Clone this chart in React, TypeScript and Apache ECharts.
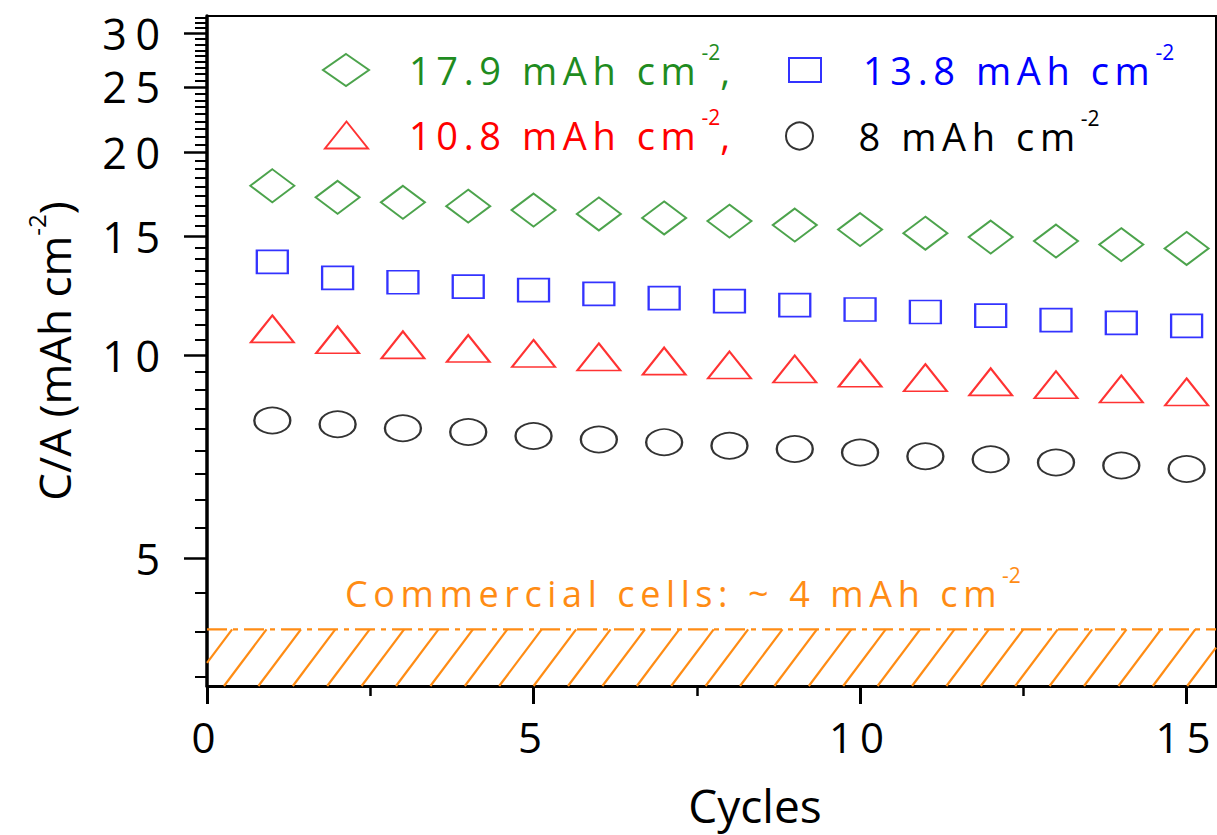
import React, { useEffect, useRef } from "react";
import * as echarts from "echarts";

// ---------------- data ----------------
const cycles = [1, 2, 3, 4, 5, 6, 7, 8, 9, 10, 11, 12, 13, 14, 15];
const capacityLabels = ["17.9", "13.8", "10.8", "8"];
const ca179 = [17.84, 17.15, 16.86, 16.64, 16.42, 16.2, 15.98, 15.81, 15.6, 15.36, 15.17, 14.97, 14.77, 14.59, 14.4];
const ca138 = [13.75, 13.02, 12.83, 12.64, 12.49, 12.33, 12.15, 12.03, 11.87, 11.69, 11.59, 11.45, 11.27, 11.17, 11.05];
const ca108 = [10.94, 10.54, 10.36, 10.23, 10.06, 9.94, 9.8, 9.67, 9.54, 9.4, 9.26, 9.13, 9.04, 8.91, 8.82];
const ca8 = [8.0, 7.9, 7.79, 7.69, 7.59, 7.5, 7.43, 7.34, 7.26, 7.17, 7.08, 7.01, 6.93, 6.86, 6.78];
const commercialLevel = 3.92;
const yMajorTicks = [5, 10, 15, 20, 25, 30];
const xMajorTicks = [0, 5, 10, 15];
const xMinorTicks = [2.5, 7.5, 12.5];
const Y_MIN = 3.23;
const Y_MAX = 31.86;
const X_MIN = 0;
const X_MAX = 15.45;

// minor ticks: 8 between each pair of major ticks (step 5/9)
const yMinorTicks: number[] = [];
for (let a = 0; a <= 30; a += 5) {
  for (let k = 1; k <= 8; k++) {
    const v = a + (k * 5) / 9;
    if (v > Y_MIN && v < Y_MAX) yMinorTicks.push(v);
  }
}

// ---------------- styles ----------------
const GREEN = "#1f8c1f";
const BLUE = "#0000ff";
const RED = "#ff0000";
const BLACK = "#000000";
const ORANGE = "#ff8c14";
const SP_A = 5.6; // letter spacing (px) for legend / annotation
const FONT = "'Open Sans', sans-serif";
const FONT_A = "LsA, 'Open Sans', sans-serif";
const FONT_B = "LsB, 'Open Sans', sans-serif";
const FONT_C = "LsC, 'Open Sans', sans-serif";
const css = `text[style*="LsA"]{letter-spacing:${SP_A}px;} text[style*="LsB"]{letter-spacing:8.5px;} text[style*="LsC"]{letter-spacing:7px;}`;

const lg = (v: number) => Math.log10(v);

export default function App() {
  const ref = useRef<HTMLDivElement>(null);
  useEffect(() => {
    if (!ref.current) return;
    const chart = echarts.init(ref.current, null, { renderer: "svg" });

    const seriesDefs = [
      { label: capacityLabels[0], values: ca179, color: GREEN, symbol: "diamond", size: [44, 33] },
      { label: capacityLabels[1], values: ca138, color: BLUE, symbol: "rect", size: [31, 23] },
      { label: capacityLabels[2], values: ca108, color: RED, symbol: "triangle", size: [43, 27] },
      { label: capacityLabels[3], values: ca8, color: BLACK, symbol: "circle", size: [36, 26] },
    ];

    const legendPos = [
      { left: 322, cy: 70, w: 46, h: 32, pad: 35, comma: true },
      { left: 788, cy: 70, w: 32, h: 24, pad: 37, comma: false },
      { left: 324, cy: 135, w: 43, h: 27, pad: 36, comma: true },
      { left: 785, cy: 136, w: 36, h: 27, pad: 36, comma: false },
    ];

    const legends = seriesDefs.map((s, i) => {
      const p = legendPos[i];
      const main = `${s.label} mAh cm`;
      return {
        data: [{ name: `${s.label} mAh cm-2`, icon: s.symbol }],
        left: p.left,
        top: p.cy - 28.5,
        padding: 0,
        itemWidth: p.w,
        itemHeight: p.h,
        symbolKeepAspect: false,
        selectedMode: false,
        itemStyle: { color: "transparent", borderColor: s.color, borderWidth: 2 },
        formatter: () => `{a|${main}}{s|-2}` + (p.comma ? "{a|,}" : ""),
        textStyle: {
          padding: [0, 0, 0, p.pad],
          rich: {
            a: { fontSize: 38, fontFamily: FONT_A, lineHeight: 57, color: s.color },
            s: {
              fontSize: 21,
              fontFamily: FONT,
              lineHeight: 21,
              verticalAlign: "top",
              color: s.color,
              padding: [0, 0, 0, main.length * SP_A],
            },
          },
        },
      };
    });

    const commercialMain = "Commercial cells: ~ 4 mAh cm";

    const option: any = {
      animation: false,
      backgroundColor: "#ffffff",
      grid: {
        left: 207,
        right: 1,
        top: 16,
        bottom: 149,
        show: true,
        borderColor: "#000",
        borderWidth: 2,
        backgroundColor: "transparent",
      },
      legend: legends,
      xAxis: [
        {
          type: "value",
          min: X_MIN,
          max: X_MAX,
          position: "bottom",
          axisLine: { show: true, lineStyle: { color: "#000", width: 3 } },
          axisTick: { show: true, customValues: xMajorTicks, length: 18, lineStyle: { color: "#000", width: 3 } },
          axisLabel: {
            customValues: xMajorTicks,
            fontSize: 42,
            lineHeight: 44,
            margin: 28,
            fontFamily: FONT_C,
            color: "#000",
          },
          splitLine: { show: false },
          name: "Cycles",
          nameLocation: "middle",
          nameGap: 96,
          nameTextStyle: { fontSize: 46, fontFamily: FONT, color: "#000", padding: [0, 0, 0, 87] },
        },
        {
          type: "value",
          min: X_MIN,
          max: X_MAX,
          position: "bottom",
          axisLine: { show: false },
          axisTick: { show: true, customValues: xMinorTicks, length: 10, lineStyle: { color: "#000", width: 2.5 } },
          axisLabel: { show: false },
          splitLine: { show: false },
        },
      ],
      yAxis: [
        {
          type: "value",
          min: lg(Y_MIN),
          max: lg(Y_MAX),
          position: "left",
          axisLine: { show: true, lineStyle: { color: "#000", width: 3.5 } },
          axisTick: { show: true, customValues: yMajorTicks.map(lg), length: 23, lineStyle: { color: "#000", width: 2.5 } },
          axisLabel: {
            customValues: yMajorTicks.map(lg),
            formatter: (v: number) => String(Math.round(Math.pow(10, v))),
            fontSize: 43,
            lineHeight: 44,
            margin: 38.5,
            fontFamily: FONT_B,
            color: "#000",
          },
          splitLine: { show: false },
          name: "{a|C/A (mAh cm}{s|-2}{a|)}",
          nameLocation: "middle",
          nameGap: 123,
          nameTextStyle: {
            rich: {
              a: { fontSize: 44, fontFamily: FONT, lineHeight: 60, color: "#000" },
              s: { fontSize: 24, fontFamily: FONT, lineHeight: 24, verticalAlign: "top", color: "#000" },
            },
          },
        },
        {
          type: "value",
          min: lg(Y_MIN),
          max: lg(Y_MAX),
          position: "left",
          axisLine: { show: false },
          axisTick: { show: true, customValues: yMinorTicks.map(lg), length: 12, lineStyle: { color: "#000", width: 2 } },
          axisLabel: { show: false },
          splitLine: { show: false },
        },
      ],
      graphic: [
        {
          type: "text",
          x: 345,
          y: 593,
          z: 10,
          silent: true,
          style: {
            text: `{a|${commercialMain}}{s|-2}`,
            verticalAlign: "middle",
            align: "left",
            rich: {
              a: { fontSize: 36, fontFamily: FONT_A, lineHeight: 57, fill: ORANGE, color: ORANGE },
              s: {
                fontSize: 21,
                fontFamily: FONT,
                lineHeight: 21,
                verticalAlign: "top",
                fill: ORANGE,
                color: ORANGE,
                padding: [0, 0, 0, commercialMain.length * SP_A],
              },
            },
          },
        },
      ],
      series: [
        {
          type: "custom",
          name: "commercial",
          silent: true,
          z: 1,
          data: [[X_MIN, lg(commercialLevel)]],
          renderItem: (params: any, api: any) => {
            const top = api.coord([X_MIN, lg(commercialLevel)]);
            const bot = api.coord([X_MIN, lg(Y_MIN)]);
            const cs = params.coordSys;
            const L = cs.x;
            const R = cs.x + cs.width;
            const yT = top[1];
            const yB = bot[1];
            const run = (yB - yT) * 0.75;
            const gap = 34.4;
            const children: any[] = [];
            for (let xb = L + 17 - gap * 2; xb < R + gap; xb += gap) {
              const t0 = Math.max(0, (L - xb) / run);
              const t1 = Math.min(1, (R - xb) / run);
              if (t0 >= t1) continue;
              children.push({
                type: "line",
                shape: {
                  x1: xb + t0 * run,
                  y1: yB - t0 * (yB - yT),
                  x2: xb + t1 * run,
                  y2: yB - t1 * (yB - yT),
                },
                style: { stroke: ORANGE, lineWidth: 2.2 },
              });
            }
            children.push({
              type: "line",
              shape: { x1: L, y1: yT, x2: R, y2: yT },
              style: { stroke: ORANGE, lineWidth: 2.2, lineDash: [20, 6, 5, 6] },
            });
            return { type: "group", children };
          },
        },
        ...seriesDefs.map((s) => ({
          type: "scatter",
          name: `${s.label} mAh cm-2`,
          symbol: s.symbol,
          symbolSize: s.size,
          z: 5,
          itemStyle: { color: "transparent", borderColor: s.color, borderWidth: 2 },
          data: cycles.map((c, i) => [c, lg(s.values[i])]),
        })),
      ],
    };

    chart.setOption(option);
    return () => chart.dispose();
  }, []);

  return (
    <>
      <style>{css}</style>
      <div
        ref={ref}
        style={{ position: "fixed", left: 0, top: 0, width: 1217, height: 835, background: "#fff" }}
      />
    </>
  );
}
